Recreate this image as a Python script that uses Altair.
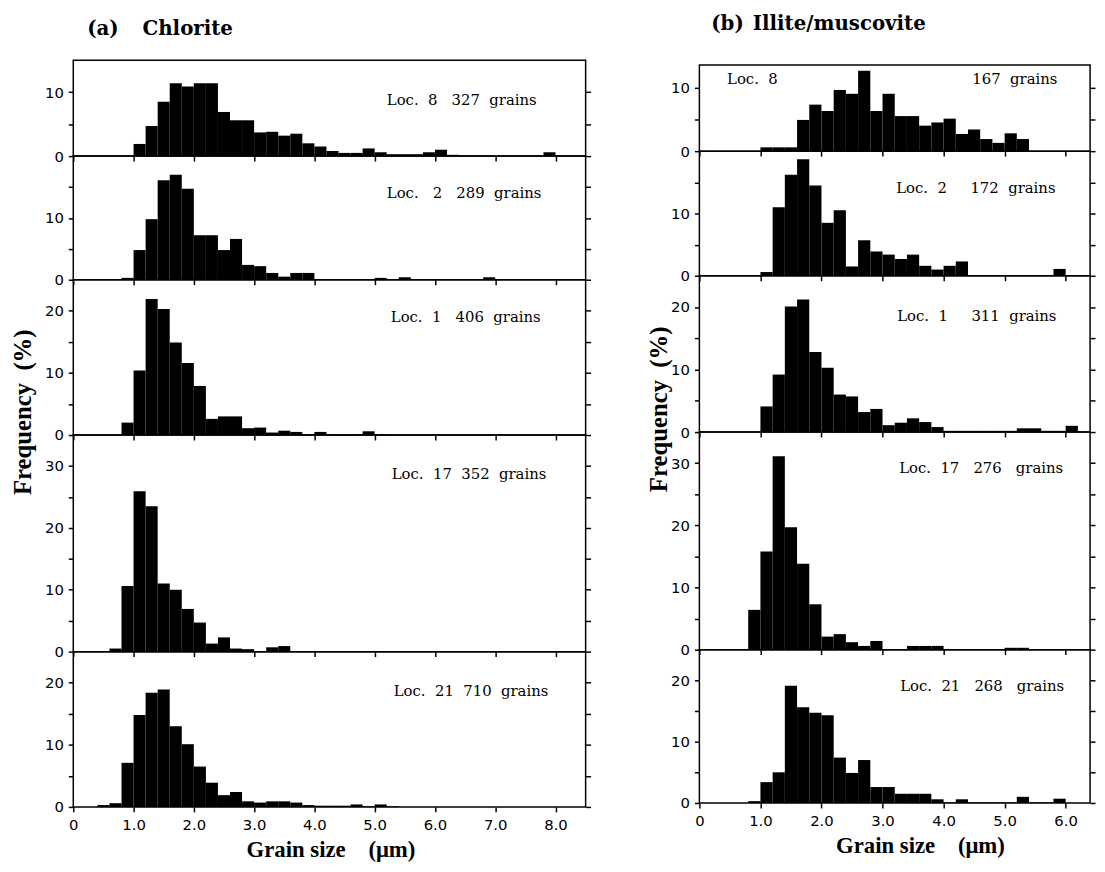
import altair as alt
import pandas as pd

BIN_WIDTH = 0.2

# ---------------- (a) Chlorite: frequency (%) per 0.2 um bin ----------------
CHL_LOC8_START = 1.0
CHL_LOC8 = [1.9, 4.7, 8.5, 11.4, 10.9, 11.4, 11.4, 6.9, 5.6, 5.6, 3.7, 3.8, 3.2, 3.5,
            2.0, 1.5, 0.8, 0.5, 0.5, 1.2, 0.6, 0.3, 0.3, 0.3, 0.6, 1.0, 0.2, 0, 0, 0,
            0, 0, 0, 0, 0.6]
CHL_LOC2_START = 0.6
CHL_LOC2 = [0.1, 0.3, 4.8, 9.8, 16.1, 17.0, 14.7, 7.2, 7.2, 4.8, 6.6, 2.4, 2.2, 1.1,
            0.5, 1.1, 1.1, 0, 0, 0, 0, 0, 0.3, 0, 0.4, 0, 0, 0, 0, 0, 0, 0.4]
CHL_LOC1_START = 0.8
CHL_LOC1 = [2.0, 10.4, 21.9, 20.3, 14.9, 11.6, 7.9, 2.6, 3.0, 3.0, 1.1, 1.2, 0.4, 0.7,
            0.5, 0.1, 0.5, 0.1, 0.1, 0.1, 0.6, 0.1]
CHL_LOC17_START = 0.6
CHL_LOC17 = [0.5, 10.6, 25.9, 23.5, 11.0, 10.0, 6.9, 4.7, 1.3, 2.3, 0.5, 0.4, 0.1, 0.7, 0.9]
CHL_LOC21_START = 0.4
CHL_LOC21 = [0.3, 0.6, 7.1, 14.8, 18.4, 18.9, 13.0, 10.1, 6.5, 3.9, 1.9, 2.4, 0.9, 0.7,
             0.9, 0.9, 0.7, 0.3, 0.2, 0.2, 0.2, 0.4, 0.1, 0.4, 0.1]

# ---------------- (b) Illite/muscovite ----------------
ILL_LOC8_START = 1.0
ILL_LOC8 = [0.6, 0.6, 0.6, 4.9, 7.3, 6.3, 9.6, 9.0, 12.6, 6.3, 9.0, 5.5, 5.5, 4.0, 4.5,
            5.1, 2.7, 3.4, 1.9, 1.3, 2.8, 1.9]
ILL_LOC2_START = 1.0
ILL_LOC2 = [0.6, 11.0, 16.2, 18.7, 14.5, 8.5, 10.5, 1.5, 5.7, 3.9, 3.4, 2.7, 3.4, 1.6,
            1.0, 1.6, 2.3, 0, 0, 0, 0, 0, 0, 0, 1.1]
ILL_LOC1_START = 1.0
ILL_LOC1 = [4.1, 9.2, 20.1, 21.2, 12.8, 10.3, 6.0, 5.7, 3.2, 3.7, 1.1, 1.5, 2.2, 1.6,
            0.8, 0.2, 0.2, 0.2, 0.2, 0.2, 0.2, 0.6, 0.6, 0.2, 0.2, 1.0]
ILL_LOC17_START = 0.8
ILL_LOC17 = [6.4, 15.8, 31.1, 19.7, 13.8, 7.3, 2.1, 2.5, 1.2, 0.6, 1.4, 0.1, 0.1, 0.6,
             0.6, 0.6, 0, 0, 0, 0, 0, 0.3, 0.3]
ILL_LOC21_START = 0.8
ILL_LOC21 = [0.3, 3.4, 5.0, 19.1, 15.6, 14.7, 14.3, 7.4, 4.9, 7.0, 2.6, 2.6, 1.5, 1.5,
             1.5, 0.6, 0.1, 0.6, 0.1, 0.1, 0.1, 0.1, 1.0, 0.1, 0.1, 0.7]

# ---------------- labels ----------------
S = "\u00a0"
CHL_LABELS = [
    "Loc." + S * 2 + "8" + S * 3 + "327" + S * 2 + "grains",
    "Loc." + S * 3 + "2" + S * 3 + "289" + S * 2 + "grains",
    "Loc." + S * 2 + "1" + S * 3 + "406" + S * 2 + "grains",
    "Loc." + S * 2 + "17" + S * 2 + "352" + S * 2 + "grains",
    "Loc." + S * 2 + "21" + S * 2 + "710" + S * 2 + "grains",
]
ILL_LOC8_LABEL = "Loc." + S * 2 + "8"
ILL_LOC8_GRAINS = "167" + S * 2 + "grains"
ILL_LABELS = [
    None,
    "Loc." + S * 2 + "2" + S * 5 + "172" + S * 2 + "grains",
    "Loc." + S * 2 + "1" + S * 5 + "311" + S * 2 + "grains",
    "Loc." + S * 2 + "17" + S * 3 + "276" + S * 3 + "grains",
    "Loc." + S * 2 + "21" + S * 3 + "268" + S * 3 + "grains",
]
Y_TITLE = "Frequency" + S * 2 + "(%)"
X_TITLE = "Grain size" + S * 4 + "(\u03bcm)"

CHL_YMAX = [15, 20, 25, 35, 25]
ILL_YMAX = [13.5, 20, 25, 35, 25]
CHL_X_TICKS = [0, 1, 2, 3, 4, 5, 6, 7, 8]
ILL_X_TICKS = [0, 1, 2, 3, 4, 5, 6]
CHL_XMAX = 8.5
ILL_XMAX = 6.4

SERIF = "Liberation Serif"
DSERIF = "DejaVu Serif"
SANS = "DejaVu Sans"


def hist_df(start, values):
    x0 = [round(start + BIN_WIDTH * i, 2) for i in range(len(values))]
    return pd.DataFrame({
        "x0": x0,
        "x1": [round(v + BIN_WIDTH, 2) for v in x0],
        "freq": values,
        "base": [0] * len(values),
    })


def text_layer(text, x, y, align="left", size=15, weight="normal", font=DSERIF,
               angle=0, baseline="middle"):
    kw = dict(align=align, baseline=baseline, font=font, fontSize=size,
              fontWeight=weight, color="black")
    if angle:
        kw["angle"] = angle
    return alt.Chart(pd.DataFrame({"t": [text]})).mark_text(**kw).encode(
        text="t:N", x=alt.value(x), y=alt.value(y))


def panel(start, values, ymax, height, width, xmax, xticks, texts, bottom=False, title_x=0):
    df = hist_df(start, values)
    yticks = [v for v in range(0, 100, 5) if v < ymax - 0.01]
    xscale = alt.Scale(domain=[0, xmax], nice=False, zero=False)
    yscale = alt.Scale(domain=[0, ymax], nice=False, zero=True)
    common = dict(tickSize=5, tickWidth=1.5, tickColor="black", domain=False, grid=False)
    if bottom:
        xaxis = alt.Axis(values=xticks,
                         labelExpr="datum.value == 0 ? '0' : format(datum.value, '.1f')",
                         title=X_TITLE,
                         titleX=title_x, titleY=43, titleBaseline="middle", titleAlign="center",
                         titleFont=SERIF, titleFontSize=23, titleFontWeight="bold",
                         titleColor="black", labelFont=SANS, labelFontSize=15,
                         labelColor="black", labelPadding=6, labelFlush=False, **common)
    else:
        xaxis = alt.Axis(values=xticks, labels=False, title=None, **common)
    yaxis_left = alt.Axis(values=yticks, labelExpr="datum.value % 10 == 0 ? datum.label : ''",
                          title=None, labelFont=SANS, labelFontSize=15, labelColor="black",
                          labelPadding=5, **common)
    yaxis_right = alt.Axis(orient="right", values=yticks, labels=False, title=None, **common)

    bars = alt.Chart(df).mark_rect(color="black").encode(
        x=alt.X("x0:Q", scale=xscale, axis=xaxis),
        x2="x1",
        y=alt.Y("freq:Q", scale=yscale, axis=yaxis_left),
        y2="base",
    )
    mirror = alt.Chart(df).mark_rect(opacity=0).encode(
        x=alt.X("x0:Q", scale=xscale, axis=xaxis),
        x2="x1",
        y=alt.Y("freq:Q", scale=yscale, axis=yaxis_right),
        y2="base",
    )
    layers = [bars, mirror] + texts
    return alt.layer(*layers).resolve_axis(y="independent").properties(width=width, height=height)


# ---------------- left column ----------------
L_W = 518
L_H = [97, 125, 157, 219, 157]
chl_data = [(CHL_LOC8_START, CHL_LOC8), (CHL_LOC2_START, CHL_LOC2), (CHL_LOC1_START, CHL_LOC1),
            (CHL_LOC17_START, CHL_LOC17), (CHL_LOC21_START, CHL_LOC21)]
chl_text_x = [317, 317, 321, 322, 324]
chl_text_y = [40, 37, 38, 39, 40]
left_panels = []
for i, (s, v) in enumerate(chl_data):
    texts = [text_layer(CHL_LABELS[i], chl_text_x[i], chl_text_y[i])]
    if i == 0:
        texts.append(text_layer("(a)", 14, -25, size=20, weight="bold", baseline="alphabetic"))
        texts.append(text_layer("Chlorite", 70, -25, size=20, weight="bold", baseline="alphabetic"))
    if i == 2:
        texts.append(text_layer(Y_TITLE, -43, 134, align="center", size=25, weight="bold",
                                font=SERIF, angle=270, baseline="alphabetic"))
    left_panels.append(panel(s, v, CHL_YMAX[i], L_H[i], L_W, CHL_XMAX, CHL_X_TICKS, texts,
                             bottom=(i == 4), title_x=260))

# ---------------- right column ----------------
R_W = 395
R_H = [87, 126, 158, 220, 155]
ill_data = [(ILL_LOC8_START, ILL_LOC8), (ILL_LOC2_START, ILL_LOC2), (ILL_LOC1_START, ILL_LOC1),
            (ILL_LOC17_START, ILL_LOC17), (ILL_LOC21_START, ILL_LOC21)]
ill_text_x = [28, 199, 200, 202, 203]
ill_text_y = [14, 37, 41, 36, 37]
right_panels = []
for i, (s, v) in enumerate(ill_data):
    if i == 0:
        texts = [text_layer(ILL_LOC8_LABEL, ill_text_x[0], ill_text_y[0]),
                 text_layer(ILL_LOC8_GRAINS, 362, ill_text_y[0], align="right"),
                 text_layer("(b)", 12, -35, size=20, weight="bold", baseline="alphabetic"),
                 text_layer("Illite/muscovite", 54, -35, size=20, weight="bold",
                            baseline="alphabetic")]
    else:
        texts = [text_layer(ILL_LABELS[i], ill_text_x[i], ill_text_y[i])]
    if i == 2:
        texts.append(text_layer(Y_TITLE, -33, 135, align="center", size=25, weight="bold",
                                font=SERIF, angle=270, baseline="alphabetic"))
    right_panels.append(panel(s, v, ILL_YMAX[i], R_H[i], R_W, ILL_XMAX, ILL_X_TICKS, texts,
                              bottom=(i == 4), title_x=223))

spacer = alt.Chart(pd.DataFrame({"s": [0]})).mark_point(opacity=0).encode(
    x=alt.X("s:Q", axis=None), y=alt.Y("s:Q", axis=None)
).properties(width=R_W, height=5, view=alt.ViewBackground(stroke="transparent"))

left = alt.vconcat(*left_panels, spacing=0, bounds="flush")
right = alt.vconcat(spacer, *right_panels, spacing=0, bounds="flush")

chart = alt.hconcat(left, right, spacing=54).properties(
    padding={"left": 2, "top": 1, "right": 0, "bottom": 0}, background="white"
).configure_view(stroke="black", strokeWidth=1.5)

chart.save("out.html", embed_options={"renderer": "svg", "actions": False})
